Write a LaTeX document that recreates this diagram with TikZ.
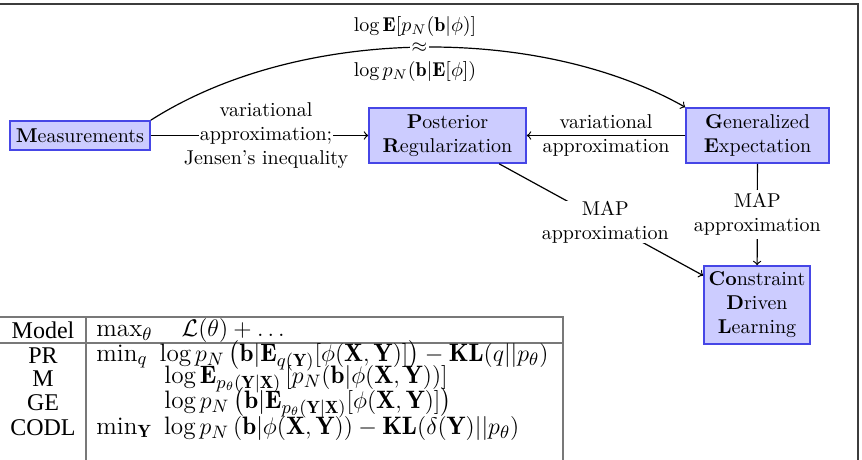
\documentclass[tikz,border=0pt]{standalone}
\usepackage{amsmath}
\usepackage{fontspec}
\newfontfamily\timesf{Liberation Serif}
\definecolor{boxborder}{RGB}{70,70,230}
\definecolor{boxfill}{RGB}{204,204,255}
\definecolor{framegray}{RGB}{60,60,60}
\definecolor{tablegray}{RGB}{120,120,120}
\setlength{\fboxsep}{0.5pt}
\begin{document}
\begin{tikzpicture}[x=0.5pt,y=-0.5pt,
  box/.style={draw=boxborder, fill=boxfill, thick, align=center, inner sep=0pt},
  arr/.style={->, semithick},
  lbl/.style={align=center, inner sep=1.5pt},
  frameline/.style={draw=framegray, line width=1pt},
  tline/.style={draw=tablegray, line width=0.8pt},
  tcell/.style={inner sep=0pt, font=\fontsize{12}{14}\selectfont},
  tmath/.style={inner sep=0pt, anchor=west, font=\fontsize{12.6}{14}\selectfont}
]
\useasboundingbox (0,0) rectangle (862,460);

% frame
\draw[frameline] (0,4) -- (858,4) -- (858,460);

% nodes
\node[box, minimum width=70pt, minimum height=14.5pt] (meas) at (80,135.5) {\textbf{M}easurements};
\node[box, minimum width=78.5pt, minimum height=27.5pt] (pr) at (447.5,135.5) {\textbf{P}osterior\\\textbf{R}egularization};
\node[box, minimum width=71.5pt, minimum height=27.5pt] (ge) at (757.5,135.5) {\textbf{G}eneralized\\\textbf{E}xpectation};
\node[box, minimum width=53pt, minimum height=39pt] (cdl) at (757,305) {\textbf{Co}nstraint\\\textbf{D}riven\\\textbf{L}earning};

% edges
\draw[arr] (meas) -- node[lbl, pos=0.53] (l1) {variational\\\colorbox{white}{approximation;}\\Jensen's inequality} (pr);
\draw[arr] (ge) -- node[lbl] (l2) {variational\\approximation} (pr);
\draw[arr] (pr) -- node[lbl, fill=white, inner sep=0pt, pos=0.52] (l3) {MAP\\approximation} (cdl);
\draw[arr] (ge) -- node[lbl, fill=white] (l4) {MAP\\approximation} (cdl);

% top arc
\draw[arr] (meas.north east) .. controls (300,25) and (540,25) .. node[pos=0.5, fill=white, inner sep=1pt] (ap) {$\approx$} (ge.north west);
\node (t1) at (415,27) {$\log\mathbf{E}[p_N(\mathbf{b}|\phi)]$};
\node (t2) at (415,72) {$\log p_N(\mathbf{b}|\mathbf{E}[\phi])$};

% table
\draw[tline] (0,317) -- (563,317) -- (563,460);
\draw[tline] (86,317) -- (86,460);
\draw[tline] (0,343) -- (563,343);

\node[tcell] (hm) at (43,330) {\timesf Model};
\node[tmath] (hf) at (96,330) {$\max_\theta\quad \mathcal{L}(\theta)+\ldots$};

\node[tcell] (rpr) at (43,356) {\timesf PR};
\node[tcell] (rm) at (43,379) {\timesf M};
\node[tcell] (rge) at (43,403) {\timesf GE};
\node[tcell] (rcodl) at (43,428) {\timesf CODL};

\node[tmath] (fpr) at (96,356) {$\min_q\ \log p_N\,\big(\mathbf{b}|\mathbf{E}_{q(\mathbf{Y})}[\phi(\mathbf{X},\mathbf{Y})]\big)-\mathbf{KL}(q||p_\theta)$};
\node[tmath] (fm) at (164,379) {$\log\mathbf{E}_{p_\theta(\mathbf{Y}|\mathbf{X})}\left[p_N(\mathbf{b}|\phi(\mathbf{X},\mathbf{Y}))\right]$};
\node[tmath] (fge) at (164,403) {$\log p_N\,\big(\mathbf{b}|\mathbf{E}_{p_\theta(\mathbf{Y}|\mathbf{X})}[\phi(\mathbf{X},\mathbf{Y})]\big)$};
\node[tmath] (fcodl) at (96,428) {$\min_{\mathbf{Y}}\ \log p_N\left(\mathbf{b}|\phi(\mathbf{X},\mathbf{Y})\right)-\mathbf{KL}(\delta(\mathbf{Y})||p_\theta)$};
\end{tikzpicture}
\end{document}
